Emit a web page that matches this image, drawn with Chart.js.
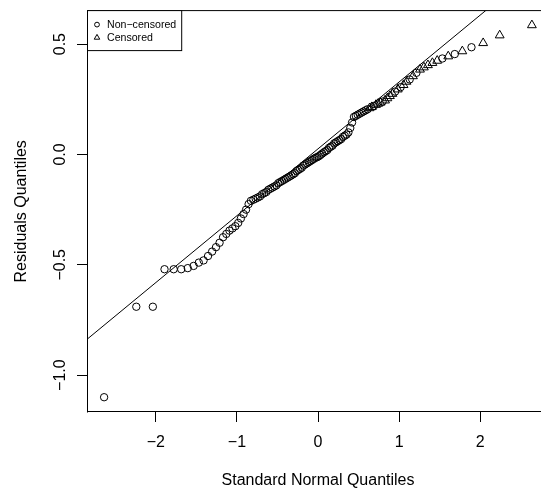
<!DOCTYPE html>
<html>
<head>
<meta charset="utf-8">
<script src="https://cdn.jsdelivr.net/npm/chart.js@4"></script>
<style>
  html, body { margin: 0; padding: 0; overflow: hidden; background: #fff; }
  #wrap { width: 560px; height: 493px; }
</style>
</head>
<body>
<div id="wrap"><canvas id="qq" width="560" height="493"></canvas></div>
<script>
// theoretical N(0,1) quantiles of the 120 sorted residuals (x of each point)
const normalQuantiles = [
  -2.638, -2.241, -2.037, -1.893, -1.780, -1.687, -1.606, -1.534, -1.470, -1.411,
  -1.356, -1.306, -1.258, -1.214, -1.171, -1.131, -1.092, -1.055, -1.019, -0.984,
  -0.951, -0.918, -0.887, -0.856, -0.827, -0.797, -0.769, -0.742, -0.715, -0.689,
  -0.663, -0.637, -0.612, -0.587, -0.562, -0.538, -0.514, -0.490, -0.467, -0.443,
  -0.420, -0.398, -0.375, -0.352, -0.330, -0.308, -0.286, -0.264, -0.243, -0.221,
  -0.200, -0.179, -0.157, -0.136, -0.115, -0.094, -0.073, -0.052, -0.031, -0.010,
  0.010, 0.031, 0.052, 0.073, 0.094, 0.115, 0.136, 0.157, 0.179, 0.200,
  0.221, 0.243, 0.264, 0.286, 0.308, 0.330, 0.352, 0.375, 0.398, 0.420,
  0.443, 0.467, 0.490, 0.514, 0.538, 0.562, 0.587, 0.612, 0.637, 0.663,
  0.689, 0.715, 0.742, 0.769, 0.797, 0.827, 0.856, 0.887, 0.918, 0.951,
  0.984, 1.019, 1.055, 1.092, 1.131, 1.171, 1.214, 1.258, 1.306, 1.356,
  1.411, 1.470, 1.534, 1.606, 1.687, 1.780, 1.893, 2.037, 2.241, 2.638
];

// sorted residuals (y of each point)
const residualQuantiles = [
  -1.10, -0.69, -0.69, -0.52, -0.52, -0.52, -0.515, -0.505, -0.49, -0.48,
  -0.46, -0.44, -0.42, -0.40, -0.375, -0.36, -0.345, -0.335, -0.325, -0.31,
  -0.29, -0.27, -0.25, -0.225, -0.21, -0.205, -0.20, -0.195, -0.19, -0.18,
  -0.175, -0.17, -0.16, -0.155, -0.15, -0.145, -0.14, -0.13, -0.125, -0.12,
  -0.115, -0.11, -0.105, -0.10, -0.095, -0.09, -0.085, -0.075, -0.07, -0.065,
  -0.06, -0.05, -0.045, -0.04, -0.035, -0.03, -0.025, -0.02, -0.015, -0.012,
  -0.008, -0.002, 0.004, 0.01, 0.015, 0.02, 0.03, 0.035, 0.04, 0.05,
  0.055, 0.06, 0.065, 0.07, 0.08, 0.085, 0.09, 0.10, 0.12, 0.145,
  0.17, 0.175, 0.18, 0.185, 0.19, 0.195, 0.20, 0.205, 0.21, 0.215,
  0.22, 0.225, 0.23, 0.235, 0.24, 0.245, 0.255, 0.265, 0.275, 0.285,
  0.295, 0.305, 0.315, 0.33, 0.34, 0.355, 0.37, 0.385, 0.395, 0.405,
  0.415, 0.425, 0.435, 0.445, 0.455, 0.468, 0.486, 0.505, 0.54, 0.586
];

// 1-based ranks of the censored observations (drawn as triangles)
const censoredRanks = [89, 90, 92, 93, 94, 96, 97, 98, 99, 101, 103, 104, 106,
  108, 109, 110, 111, 112, 114, 116, 118, 119, 120];

const seriesLabels = ['Non\u2212censored', 'Censored'];

// qqline end points
const refLineX = [-2.85, 2.85];
const refLineY = [-0.838, 0.889];

const xTickValues = [-2, -1, 0, 1, 2];
const xTickLabels = ['\u22122', '\u22121', '0', '1', '2'];
const yTickValues = [-1.0, -0.5, 0.0, 0.5];
const yTickLabels = ['\u22121.0', '\u22120.5', '0.0', '0.5'];

const FONT = "'Liberation Sans', Arial, Helvetica, sans-serif";
Chart.defaults.font.family = FONT;
Chart.defaults.color = '#000';

const openPts = [];
const censPts = [];
normalQuantiles.forEach((x, i) => {
  const p = { x: x, y: residualQuantiles[i] };
  if (censoredRanks.includes(i + 1)) censPts.push(p); else openPts.push(p);
});
const refLine = refLineX.map((x, i) => ({ x: x, y: refLineY[i] }));

// plot frame (R style box) and the top-left key
const frameAndKey = {
  id: 'frameAndKey',
  afterDraw(chart) {
    const { ctx, chartArea: a } = chart;
    ctx.save();
    ctx.strokeStyle = '#000';
    ctx.lineWidth = 1;
    ctx.beginPath();
    ctx.moveTo(a.left + 0.5, a.top);
    ctx.lineTo(a.left + 0.5, a.bottom + 0.5);
    ctx.moveTo(a.left, a.top);
    ctx.lineTo(a.right, a.top);
    ctx.moveTo(a.left, a.bottom - 0.5);
    ctx.lineTo(a.right, a.bottom - 0.5);
    ctx.moveTo(a.right - 0.5, a.top);
    ctx.lineTo(a.right - 0.5, a.bottom);
    ctx.stroke();

    const keyFont = '10.6px ' + FONT;
    ctx.font = keyFont;
    const textW = Math.max(...seriesLabels.map(s => ctx.measureText(s).width));
    const bx = a.left + 0.5, by = a.top;
    const bw = 20 + textW + 5, bh = 40;
    ctx.fillStyle = '#fff';
    ctx.fillRect(bx, by, bw, bh);
    ctx.strokeRect(bx, by, bw, bh);

    ctx.textBaseline = 'middle';
    ctx.textAlign = 'left';
    chart.data.datasets.slice(0, 2).forEach((ds, i) => {
      const cy = by + 14 + i * 13;
      ctx.fillStyle = 'rgba(0,0,0,0)';
      ctx.strokeStyle = '#000';
      Chart.helpers.drawPoint(ctx, {
        pointStyle: ds.pointStyle,
        radius: ds.pointStyle === 'triangle' ? 3.2 : 2.4,
        borderWidth: 1, rotation: 0
      }, bx + 9.5, cy);
      ctx.fillStyle = '#000';
      ctx.fillText(ds.label, bx + 19.5, cy);
    });
    ctx.restore();
  }
};

new Chart(document.getElementById('qq'), {
  type: 'scatter',
  data: {
    datasets: [
      {
        label: seriesLabels[0],
        data: openPts,
        pointStyle: 'circle',
        pointRadius: 3.7,
        borderColor: '#000',
        backgroundColor: 'rgba(0,0,0,0)',
        borderWidth: 1
      },
      {
        label: seriesLabels[1],
        data: censPts,
        pointStyle: 'triangle',
        pointRadius: 5.1,
        borderColor: '#000',
        backgroundColor: 'rgba(0,0,0,0)',
        borderWidth: 1
      },
      {
        type: 'line',
        label: 'qqline',
        data: refLine,
        borderColor: '#000',
        borderWidth: 1,
        pointRadius: 0,
        fill: false
      }
    ]
  },
  options: {
    responsive: false,
    animation: false,
    devicePixelRatio: 1,
    layout: { padding: { top: 9, right: 11, left: 0, bottom: 0 } },
    plugins: { legend: { display: false }, tooltip: { enabled: false } },
    scales: {
      x: {
        type: 'linear',
        min: -2.849,
        max: 2.849,
        afterBuildTicks: s => { s.ticks = xTickValues.map(v => ({ value: v })); },
        afterFit: s => { s.height = 81; },
        border: { display: false },
        grid: { drawOnChartArea: false, drawTicks: true, tickLength: 10, color: '#000', lineWidth: 1 },
        ticks: {
          padding: 11,
          maxRotation: 0,
          font: { size: 16 },
          color: '#000',
          callback: v => xTickLabels[xTickValues.indexOf(v)]
        },
        title: {
          display: true,
          text: 'Standard Normal Quantiles',
          font: { size: 16 },
          color: '#000',
          padding: { top: 0, bottom: 3 }
        }
      },
      y: {
        type: 'linear',
        min: -1.167,
        max: 0.652,
        afterBuildTicks: s => { s.ticks = yTickValues.map(v => ({ value: v })); },
        afterFit: s => { s.width = 87; },
        border: { display: false },
        grid: { drawOnChartArea: false, drawTicks: true, tickLength: 10, color: '#000', lineWidth: 1 },
        ticks: {
          padding: 1,
          minRotation: 90,
          maxRotation: 90,
          crossAlign: 'center',
          font: { size: 16 },
          color: '#000',
          callback: v => yTickLabels[yTickValues.indexOf(v)]
        },
        title: {
          display: true,
          text: 'Residuals Quantiles',
          font: { size: 16 },
          color: '#000',
          padding: { top: 12, bottom: 0 }
        }
      }
    }
  },
  plugins: [frameAndKey]
});
</script>
</body>
</html>
